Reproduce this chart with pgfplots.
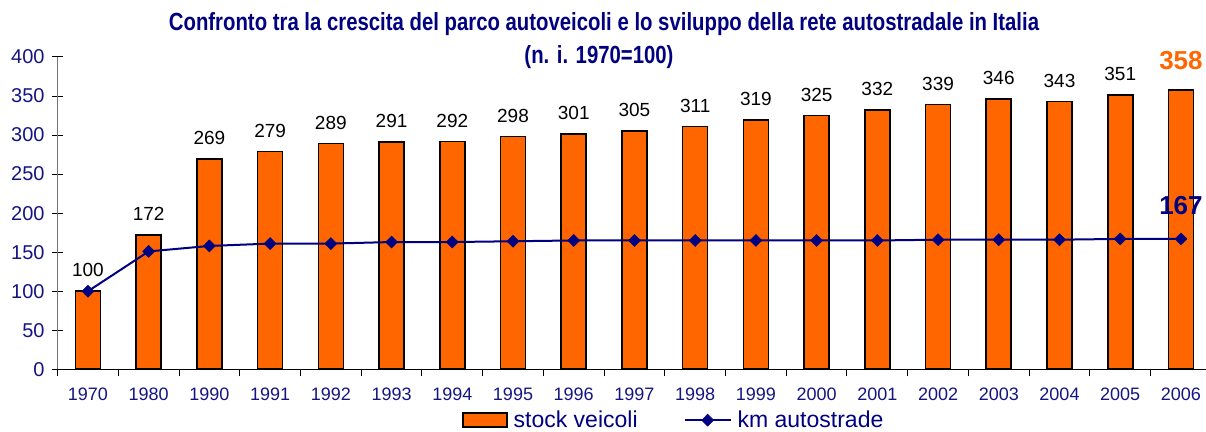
\documentclass[border=0pt]{standalone}
\usepackage{fontspec}
\setmainfont{Liberation Sans}
\newfontfamily\narrowfont[FakeStretch=0.82]{Liberation Sans}
\usepackage{pgfplots}
\pgfplotsset{compat=1.18}
\definecolor{orng}{RGB}{255,102,0}
\definecolor{navy}{RGB}{0,0,128}
\definecolor{ticknavy}{RGB}{20,20,130}
\pgfplotsset{
    boxlegend/.style={legend image code/.code={\draw[fill=orng, draw=black, line width=1.8bp] (0bp,-7bp) rectangle (44bp,7bp); \path (48bp,0bp);}},
    linelegend/.style={legend image code/.code={\draw[##1, mark repeat=2, mark phase=2] plot coordinates {(0bp,0bp) (23bp,0bp) (46bp,0bp)}; \path (50bp,0bp);}},
}

\begin{document}
\begin{tikzpicture}
\begin{axis}[
    at={(57.6bp,62.7bp)}, anchor=south west,
    scale only axis, width=1153.7bp, height=312.3bp,
    xmin=-0.5, xmax=18.5, ymin=0, ymax=400,
    axis x line*=bottom, axis y line*=left,
    x axis line style={black, line width=1bp},
    y axis line style={black!55, line width=1.2bp},
    xtick={0,...,18},
    xticklabels={1970,1980,1990,1991,1992,1993,1994,1995,1996,1997,1998,1999,2000,2001,2002,2003,2004,2005,2006},
    minor xtick={-0.5,0.5,...,18.5},
    every major x tick/.style={draw=none},
    every minor x tick/.style={black, line width=1bp},
    ytick={0,50,...,400},
    every major y tick/.style={black, line width=1bp},
    major tick length=11bp, minor tick length=7bp,
    xtick align=outside, ytick align=center,
    /pgf/number format/assume math mode=true,
    xticklabel style={font=\fontsize{18bp}{20bp}\selectfont, text=ticknavy, yshift=-4bp},
    yticklabel style={font=\fontsize{20bp}{22bp}\selectfont, text=ticknavy, xshift=-4bp},
    clip=false,
    legend style={draw=none, fill=none, at={(0.534,-0.163)}, anchor=center,
        font=\fontsize{23bp}{25bp}\selectfont, text=navy, legend columns=2,
        inner sep=0pt,
        /tikz/every even column/.append style={column sep=44bp}},
]
\addplot[ybar, bar width=25bp, fill=orng, draw=black, line width=1.6bp,
    point meta=explicit symbolic, nodes near coords,
    nodes near coords style={font=\fontsize{19bp}{21bp}\selectfont, text=black, yshift=10bp},
    boxlegend]
coordinates {
(0,100)[100] (1,172)[172] (2,269)[269] (3,279)[279] (4,289)[289]
(5,291)[291] (6,292)[292] (7,298)[298] (8,301)[301] (9,305)[305]
(10,311)[311] (11,319)[319] (12,325)[325] (13,332)[332] (14,339)[339]
(15,346)[346] (16,343)[343] (17,351)[351] (18,358)[]
};
\addlegendentry{stock veicoli}
\addplot[navy, line width=2bp, mark=diamond*, mark size=6bp,
    mark options={fill=navy, line width=0.5bp, xscale=1.33},
    linelegend]
coordinates {
(0,100) (1,151) (2,158) (3,161) (4,161) (5,163) (6,163) (7,164) (8,165) (9,165)
(10,165) (11,165) (12,165) (13,165) (14,166) (15,166) (16,166) (17,167) (18,167)
};
\addlegendentry{km autostrade}
% highlighted end values
\addplot[draw=none, forget plot, point meta=explicit symbolic, nodes near coords,
    nodes near coords style={font=\fontsize{26bp}{28bp}\selectfont\bfseries, text=orng, yshift=16bp}]
coordinates {(18,358)[358]};
\addplot[draw=none, forget plot, point meta=explicit symbolic, nodes near coords,
    nodes near coords style={font=\fontsize{26bp}{28bp}\selectfont\bfseries, text=navy, yshift=21bp}]
coordinates {(18,167)[167]};
\end{axis}
\node[font={\narrowfont\bfseries\fontsize{24.8bp}{26bp}\selectfont}, text=navy] at (604bp,408bp)
    {Confronto tra la crescita del parco autoveicoli e lo sviluppo della rete autostradale in Italia};
\node[font={\narrowfont\bfseries\fontsize{24.8bp}{26bp}\selectfont}, text=navy] at (599bp,375bp)
    {(n. i. 1970=100)};
\pgfresetboundingbox
\useasboundingbox (0,0) rectangle (1206bp,432bp);
\end{tikzpicture}
\end{document}
